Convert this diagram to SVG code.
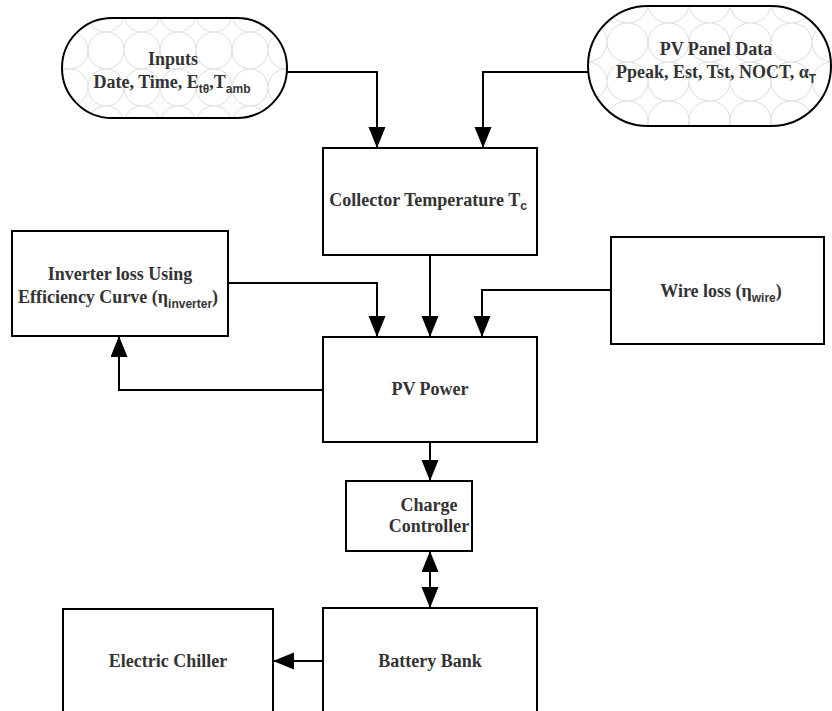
<svg xmlns="http://www.w3.org/2000/svg" width="832" height="711" viewBox="0 0 832 711">
  <style>
    .box { fill: #ffffff; stroke: #000000; stroke-width: 2; }
    .term { stroke: #000000; stroke-width: 2; }
    .lbl { font-family: "Liberation Serif", "Times New Roman", serif; font-weight: bold; font-size: 18px; fill: #333333; text-anchor: middle; }
    .sub { font-family: "Liberation Sans", Arial, sans-serif; font-size: 12px; }
    .conn { fill: none; stroke: #000000; stroke-width: 2; marker-end: url(#arrow); }
    .tile { fill: none; stroke: #cccccc; stroke-width: 0.7; }
  </style>
  <defs>
    <marker id="arrow" markerUnits="userSpaceOnUse" markerWidth="22" markerHeight="18" refX="21" refY="8.5" orient="auto-start-reverse">
      <path d="M0,0 L21,8.5 L0,17 Z" fill="#000000"/>
    </marker>
    <pattern id="tileA" patternUnits="userSpaceOnUse" x="88" y="32" width="36" height="37">
      <ellipse class="tile" cx="18" cy="18.5" rx="18" ry="18.5"/>
    </pattern>
    <pattern id="tileB" patternUnits="userSpaceOnUse" x="607" y="23" width="41" height="39">
      <ellipse class="tile" cx="20.5" cy="19.5" rx="20.5" ry="19.5"/>
    </pattern>
  </defs>

  <rect width="832" height="711" fill="#ffffff"/>

  <g id="connectors">
    <path class="conn" d="M287,72 H377 V148"/>
    <path class="conn" d="M588,72 H483 V148"/>
    <path class="conn" d="M430,255 V337"/>
    <path class="conn" d="M228,283 H377 V337"/>
    <path class="conn" d="M611,290 H482 V337"/>
    <path class="conn" d="M323,390 H119 V336"/>
    <path class="conn" d="M430,442 V481"/>
    <path class="conn" d="M430,551 V608" marker-start="url(#arrow)"/>
    <path class="conn" d="M323,661 H273"/>
  </g>

  <g id="inputs">
    <rect class="term" x="62" y="18" width="225" height="100" rx="50" ry="50" fill="url(#tileA)"/>
    <text class="lbl" x="173" y="65">Inputs</text>
    <text class="lbl" x="172" y="88">Date, Time, E<tspan class="sub" dy="5">tθ</tspan><tspan dy="-5">,T</tspan><tspan class="sub" dy="5">amb</tspan></text>
  </g>

  <g id="pv-panel-data">
    <rect class="term" x="588" y="6" width="243" height="120" rx="60" ry="60" fill="url(#tileB)"/>
    <text class="lbl" x="716" y="55">PV Panel Data</text>
    <text class="lbl" x="716" y="78">Ppeak, Est, Tst, NOCT, α<tspan class="sub" dy="5">T</tspan></text>
  </g>

  <g id="collector-temperature">
    <rect class="box" x="323" y="148" width="214" height="107"/>
    <text class="lbl" x="428" y="206">Collector Temperature T<tspan class="sub" dy="4">c</tspan></text>
  </g>

  <g id="inverter-loss">
    <rect class="box" x="12" y="231" width="216" height="105"/>
    <text class="lbl" x="120" y="280">Inverter loss Using</text>
    <text class="lbl" x="118" y="303">Efficiency Curve (η<tspan class="sub" dy="5">inverter</tspan><tspan dy="-5">)</tspan></text>
  </g>

  <g id="wire-loss">
    <rect class="box" x="611" y="237" width="213" height="107"/>
    <text class="lbl" x="721" y="297">Wire loss (η<tspan class="sub" dy="5">wire</tspan><tspan dy="-5">)</tspan></text>
  </g>

  <g id="pv-power">
    <rect class="box" x="323" y="337" width="214" height="105"/>
    <text class="lbl" x="430" y="395">PV Power</text>
  </g>

  <g id="charge-controller">
    <rect class="box" x="346" y="481" width="126" height="70"/>
    <text class="lbl" x="429" y="511">Charge</text>
    <text class="lbl" x="429" y="532">Controller</text>
  </g>

  <g id="battery-bank">
    <rect class="box" x="323" y="608" width="214" height="112"/>
    <text class="lbl" x="430" y="667">Battery Bank</text>
  </g>

  <g id="electric-chiller">
    <rect class="box" x="63" y="609" width="210" height="112"/>
    <text class="lbl" x="168" y="667">Electric Chiller</text>
  </g>
</svg>
